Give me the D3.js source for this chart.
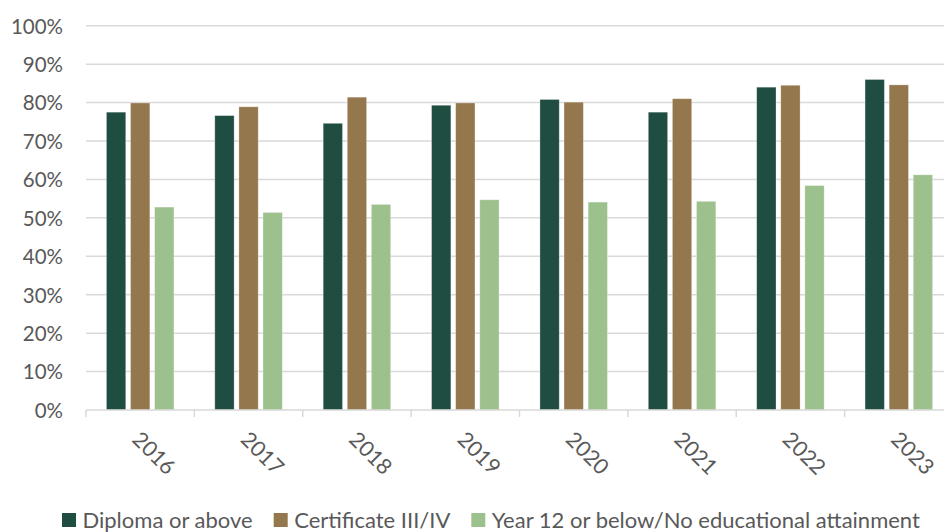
<!DOCTYPE html>
<html>
<head>
<meta charset="utf-8">
<script src="https://cdn.jsdelivr.net/npm/d3@7"></script>
<style>
  html, body { margin: 0; padding: 0; background: #fff; }
  svg { display: block; font-family: Lato, "Open Sans", sans-serif; }
</style>
</head>
<body>
<svg id="chart" width="944" height="532"></svg>
<script>
// Years on the category axis
const years = ["2016", "2017", "2018", "2019", "2020", "2021", "2022", "2023"];

// Series names and their colours
const seriesNames = ["Diploma or above", "Certificate III/IV", "Year 12 or below/No educational attainment"];
const seriesColors = ["#1f4d42", "#94774c", "#9dc18d"];

// Share of each group (%), one value per year
const diplomaOrAbove = [77.5, 76.6, 74.6, 79.3, 80.8, 77.5, 84.0, 86.0];
const certificateIIIIV = [79.9, 78.9, 81.4, 79.9, 80.1, 81.0, 84.5, 84.6];
const year12OrBelow = [52.8, 51.4, 53.5, 54.7, 54.1, 54.3, 58.4, 61.2];

// Y-axis tick values and labels
const yTicks = [0, 10, 20, 30, 40, 50, 60, 70, 80, 90, 100];
const yTickLabels = ["0%", "10%", "20%", "30%", "40%", "50%", "60%", "70%", "80%", "90%", "100%"];

const seriesValues = [diplomaOrAbove, certificateIIIIV, year12OrBelow];
const rows = years.map((y, i) => ({ year: y, values: seriesValues.map(s => s[i]) }));

const svg = d3.select("#chart");
const W = 944, H = 532;
const plot = { left: 86, right: 953, top: 25.7, bottom: 410 };
const textColor = "#595959";
const gridColor = "#d9d9d9";

const x = d3.scaleBand().domain(years).range([plot.left, plot.right]).paddingInner(0).paddingOuter(0);
const y = d3.scaleLinear().domain([0, 100]).range([plot.bottom, plot.top]);

// Inner band for the three bars of a year
const barStep = 24.1, barW = 19.3;
const clusterHalf = ((seriesNames.length - 1) * barStep + barW) / 2;
const xs = d3.scaleBand().domain(d3.range(seriesNames.length))
  .range([-clusterHalf, clusterHalf]).paddingInner((barStep - barW) / barStep).paddingOuter(0);

// Horizontal gridlines
svg.append("g")
  .selectAll("line")
  .data(yTicks.filter(t => t > 0))
  .join("line")
  .attr("x1", plot.left).attr("x2", W)
  .attr("y1", d => y(d)).attr("y2", d => y(d))
  .attr("stroke", gridColor).attr("stroke-width", 1.5);

// Y axis labels
const yAxis = d3.axisLeft(y).tickValues(yTicks).tickSize(0).tickPadding(0)
  .tickFormat((d, i) => yTickLabels[i]);
const yg = svg.append("g").attr("transform", `translate(63,0)`).call(yAxis);
yg.select(".domain").remove();
yg.selectAll("text")
  .attr("fill", textColor)
  .style("font-size", "20.5px")
  .style("font-family", "Lato, 'Open Sans', sans-serif")
  .attr("dy", "0.36em");

// Bars
const groups = svg.append("g")
  .selectAll("g")
  .data(rows)
  .join("g")
  .attr("transform", d => `translate(${x(d.year) + x.bandwidth() / 2},0)`);

groups.selectAll("rect")
  .data(d => d.values.map((v, i) => ({ v, i })))
  .join("rect")
  .attr("x", d => xs(d.i))
  .attr("width", xs.bandwidth())
  .attr("y", d => y(d.v))
  .attr("height", d => y(0) - y(d.v))
  .attr("fill", d => seriesColors[d.i])
  .attr("stroke", "#ffffff")
  .attr("stroke-opacity", 0.35)
  .attr("stroke-width", 0.8);

// X axis line with tick marks at band boundaries
const xAxisG = svg.append("g");
xAxisG.append("line")
  .attr("x1", plot.left).attr("x2", W)
  .attr("y1", plot.bottom).attr("y2", plot.bottom)
  .attr("stroke", gridColor).attr("stroke-width", 1.5);
xAxisG.selectAll("line.tick")
  .data(years.map(yr => x(yr)))
  .join("line")
  .attr("class", "tick")
  .attr("x1", d => d).attr("x2", d => d)
  .attr("y1", plot.bottom).attr("y2", plot.bottom + 7)
  .attr("stroke", gridColor).attr("stroke-width", 1.5);

// Rotated year labels
xAxisG.selectAll("text")
  .data(years)
  .join("text")
  .attr("transform", d => `translate(${x(d) + x.bandwidth() / 2 + 14},453) rotate(45)`)
  .attr("text-anchor", "middle")
  .attr("dy", "0.36em")
  .attr("fill", textColor)
  .style("font-size", "21.5px")
  .text(d => d);

// Legend
const legend = svg.append("g").attr("transform", "translate(0,520)");
let lx = 62;
seriesNames.forEach((name, i) => {
  const item = legend.append("g").attr("transform", `translate(${lx},0)`);
  item.append("rect")
    .attr("x", 0).attr("y", -7).attr("width", 14).attr("height", 14)
    .attr("fill", seriesColors[i]);
  const t = item.append("text")
    .attr("x", 20.5).attr("y", 0).attr("dy", "0.36em")
    .attr("fill", textColor)
    .style("font-size", "22px")
    .text(name);
  lx += 20.5 + t.node().getComputedTextLength() + 21;
});
</script>
</body>
</html>
